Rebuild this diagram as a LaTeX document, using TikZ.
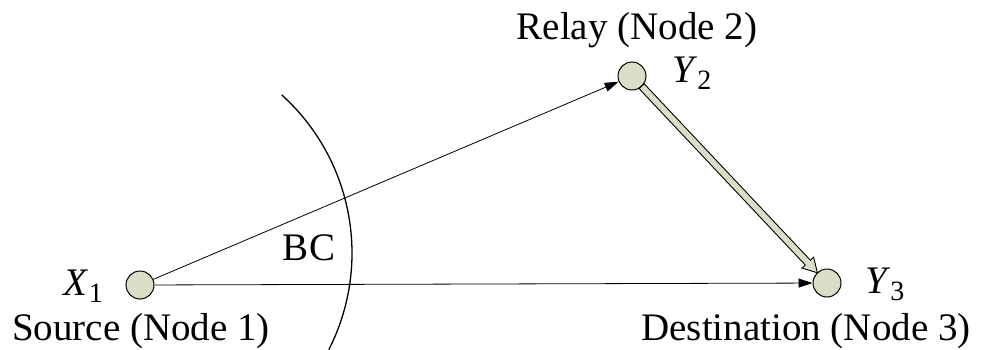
\documentclass[tikz,border=0pt]{standalone}
\usepackage{fontspec}
\setmainfont{Liberation Serif}
\usetikzlibrary{calc,arrows.meta}
\definecolor{nodefill}{RGB}{217,222,199}
\newcommand{\subidx}[1]{\raisebox{-7pt}{\fontsize{28}{28}\selectfont #1}}
\begin{document}
\begin{tikzpicture}[x=1pt,y=1pt,
  station/.style={circle,draw=black,line width=1pt,fill=nodefill,minimum size=28pt,inner sep=0pt},
  lbl/.style={font=\fontsize{39}{46}\selectfont,inner sep=0pt},
  link/.style={line width=0.8pt,-{Triangle[length=14pt,width=9pt]}},
  fatlink/.style={line width=0.9pt,fill=nodefill,line join=miter}]
\useasboundingbox (0,0) rectangle (982,349);
% broadcast arc
\coordinate (bcc) at (139,96);
\draw[line width=1.3pt] (bcc) ++(47.9:213) arc[start angle=47.9, end angle=-27, radius=213];
% nodes
\node[station] (X1) at (140,64) {};
\node[station] (Y2) at (632,273) {};
\node[station] (Y3) at (827,66) {};
% labels
\node[lbl, anchor=base] (src) at (141,9) {Source (Node 1)};
\node[lbl, anchor=base] (rel) at (637,309) {Relay (Node 2)};
\node[lbl, anchor=base] (dst) at (806,9) {Destination (Node 3)};
\node[lbl, anchor=base] (bc) at (309,89) {BC};
\node[lbl, anchor=base east] (x1l) at (103,54) {\textit{X}\subidx{1}};
\node[lbl, anchor=base west] (y2l) at (672,267) {\textit{Y}\subidx{2}};
\node[lbl, anchor=base west] (y3l) at (865,56) {\textit{Y}\subidx{3}};
% links
\draw[link] (X1) -- (Y2);
\draw[link] (X1) -- (Y3);
% relay-to-destination fat arrow
\coordinate (s) at ($(Y2.center)!14pt!(Y3.center)$);
\coordinate (t) at ($(Y3.center)!14pt!(Y2.center)$);
\coordinate (b) at ($(t)!14pt!(s)$);
\draw[fatlink]
  ($(s)!3.5pt!90:(t)$) -- ($(b)!3.5pt!-90:(s)$) -- ($(b)!8pt!-90:(s)$) -- (t)
  -- ($(b)!8pt!90:(s)$) -- ($(b)!3.5pt!90:(s)$) -- ($(s)!3.5pt!-90:(t)$) -- cycle;
\end{tikzpicture}
\end{document}
